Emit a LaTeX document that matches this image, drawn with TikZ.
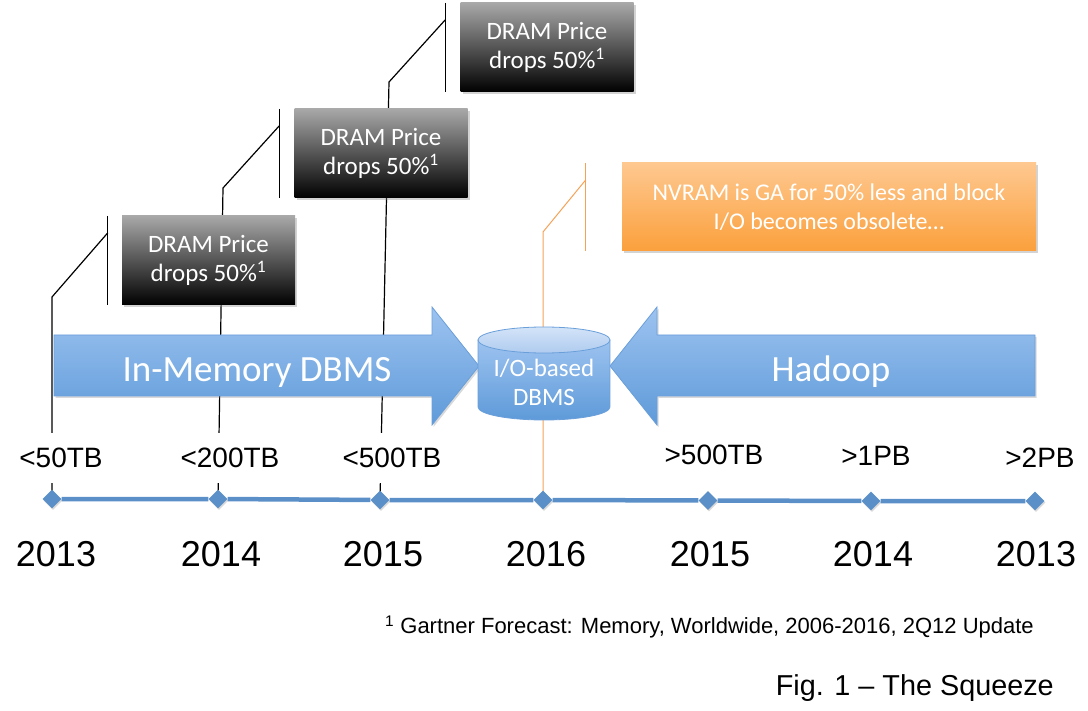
\documentclass[tikz,border=0pt]{standalone}
\usepackage{fontspec}
\setmainfont{Liberation Sans}
\newfontfamily\calfont{Carlito}
\usepackage{tikz}
\usetikzlibrary{shapes.geometric,shadows,backgrounds,positioning}
\definecolor{arrtop}{HTML}{9DC3F0}
\definecolor{arrbot}{HTML}{5E9AD9}
\definecolor{arredge}{HTML}{6A9FDA}
\definecolor{captop}{HTML}{D3E4F8}
\definecolor{capbot}{HTML}{AFCBEF}
\definecolor{tlblue}{HTML}{5B8FC8}
\definecolor{dramtop}{HTML}{A8A8A8}
\definecolor{nvtop}{HTML}{FEC890}
\definecolor{nvbot}{HTML}{FBA03C}
\definecolor{nvline}{HTML}{F5A256}

\begin{document}
\begin{tikzpicture}[x=1pt,y=-1pt,
        dram/.style={top color=dramtop, bottom color=black, text=white, align=center,
            minimum width=173pt, minimum height=89pt, font=\calfont\fontsize{25}{29}\selectfont,
            drop shadow={opacity=0.35,shadow xshift=2pt,shadow yshift=-2pt}},
        nvram/.style={top color=nvtop, bottom color=nvbot, text=white, align=center,
            minimum width=414pt, minimum height=88pt, font=\calfont\fontsize{24}{29}\selectfont,
            drop shadow={opacity=0.35,shadow xshift=2pt,shadow yshift=-2pt}},
        blockarrow/.style={top color=arrtop, bottom color=arrbot, draw=arredge, line width=0.8pt,
            drop shadow={opacity=0.3,shadow xshift=1.5pt,shadow yshift=-2pt}},
        arrowtext/.style={anchor=base, text=white, font=\calfont\fontsize{37}{40}\selectfont},
        dbbody/.style={top color=arrtop, bottom color=arrbot, draw=arredge, line width=0.8pt},
        dbcap/.style={top color=captop, bottom color=capbot, draw=arredge, line width=0.8pt},
        callout/.style={line width=1.2pt},
        nvcallout/.style={draw=nvline, line width=1pt},
        marker/.style={diamond, fill=tlblue, inner sep=0pt, minimum size=19pt,
            drop shadow={opacity=0.3,shadow xshift=1pt,shadow yshift=-1.5pt}},
        tline/.style={draw=tlblue, line width=4.5pt},
        size/.style={fill=white, minimum height=50pt, font=\fontsize{28}{32}\selectfont},
        year/.style={font=\fontsize{36}{40}\selectfont}]
        \useasboundingbox (0,0) rectangle (1088,711);

        % the two block arrows
        \shadedraw[blockarrow] (54,335) -- (432,335) -- (432,307) -- (479,366) -- (432,425) -- (432,396) -- (54,396) -- cycle;
        \shadedraw[blockarrow] (1035,335) -- (657,335) -- (657,307) -- (610,366) -- (657,425) -- (657,396) -- (1035,396) -- cycle;
        \node[arrowtext] (inmem) at (257,382) {In-Memory DBMS};
        \node[arrowtext] (hadoop) at (831,382) {Hadoop};

        % database in the middle
        \shadedraw[dbbody] (478,340) -- (478,407) arc[start angle=180,end angle=0,x radius=66,y radius=13] -- (610,340) -- cycle;
        \shadedraw[dbcap] (544,340) ellipse[x radius=66,y radius=13];
        \node[text=white, align=center, font=\calfont\fontsize{25}{29}\selectfont] (db) at (544,382) {I/O-based\\DBMS};

        % price boxes
        \node[dram] (dram1) at (208.5,260.5) {DRAM Price\\drops 50\%\textsuperscript{1}};
        \node[dram] (dram2) at (381,153.5) {DRAM Price\\drops 50\%\textsuperscript{1}};
        \node[dram] (dram3) at (547,47.5) {DRAM Price\\drops 50\%\textsuperscript{1}};
        \node[nvram] (nvram) at (829,207) {NVRAM is GA for 50\% less and block\\I/O becomes obsolete…};

        % timeline
        \node[marker] (t1) at (52,499) {};
        \node[marker] (t2) at (218,499) {};
        \node[marker] (t3) at (380,500) {};
        \node[marker] (t4) at (543,500) {};
        \node[marker] (t5) at (708,500.5) {};
        \node[marker] (t6) at (871,501) {};
        \node[marker] (t7) at (1035,501) {};
        \draw[tline] (t1) -- (t2) -- (t3) -- (t4) -- (t5) -- (t6) -- (t7);

        \node[size] (s1) at (61,458) {<50TB};
        \node[size] (s2) at (230,458) {<200TB};
        \node[size] (s3) at (392,458) {<500TB};
        \node[size] (s5) at (714,455) {>500TB};
        \node[size] (s6) at (876,456) {>1PB};
        \node[size] (s7) at (1040,458) {>2PB};

        \node[year] (y1) at (56,554) {2013};
        \node[year] (y2) at (221,554) {2014};
        \node[year] (y3) at (383,554) {2015};
        \node[year] (y4) at (546,554) {2016};
        \node[year] (y5) at (710,554) {2015};
        \node[year] (y6) at (873,554) {2014};
        \node[year] (y7) at (1036,554) {2013};

        \node[anchor=east, inner sep=0pt, font=\fontsize{22}{26}\selectfont] (source) at (1034,627)
            {\textsuperscript{1} Gartner Forecast: Memory, Worldwide, 2006-2016, 2Q12 Update};
        \node[anchor=east, inner sep=0pt, font=\fontsize{28.8}{32}\selectfont] (caption) at (1054,688)
            {Fig. 1 – The Squeeze};

        % callout lines behind everything
        \begin{scope}[on background layer]
        \draw[callout] (t1.center) -- (52,297) -- ([xshift=-14pt,yshift=-17pt]dram1.north west);
        \draw[callout] ([xshift=-14pt]dram1.north west) -- ([xshift=-14pt]dram1.south west);
        \draw[callout] (t2.center) -- (223,188) -- ([xshift=-15pt,yshift=-17pt]dram2.north west);
        \draw[callout] ([xshift=-15pt]dram2.north west) -- ([xshift=-15pt]dram2.south west);
        \draw[callout] (t3.center) -- (389,82) -- ([xshift=-15pt,yshift=-17pt]dram3.north west);
        \draw[callout] ([xshift=-15pt]dram3.north west) -- ([xshift=-15pt]dram3.south west);
        \draw[nvcallout] (t4.center) -- (543,232) -- ([xshift=-36pt,yshift=-17pt]nvram.north west);
        \draw[nvcallout] ([xshift=-36pt]nvram.north west) -- ([xshift=-36pt]nvram.south west);
        \end{scope}
    \end{tikzpicture}
\end{document}
